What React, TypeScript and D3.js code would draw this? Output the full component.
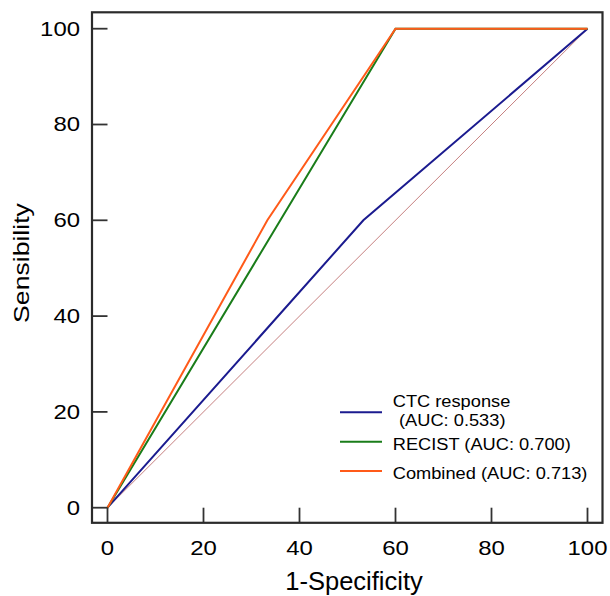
import React from "react";
import * as d3 from "d3";

const xTicks = [0, 20, 40, 60, 80, 100];
const yTicks = [0, 20, 40, 60, 80, 100];

const ctcX = [0, 53.3, 100];
const ctcY = [0, 60, 100];
const recistX = [0, 60, 100];
const recistY = [0, 100, 100];
const combinedX = [0, 33.3, 60, 100];
const combinedY = [0, 60, 100, 100];
const diagX = [0, 100];
const diagY = [0, 100];

const seriesNames = ["CTC response", "RECIST (AUC: 0.700)", "Combined (AUC: 0.713)"];
const ctcSub = "(AUC: 0.533)";
const colors = ["#1b1b8f", "#1a7d1a", "#ff5a19"];

const W = 610;
const H = 596;

function T({ x, y, sx = 1, size, anchor = "start", children, rotate = 0 }: any) {
  return (
    <g transform={`translate(${x},${y}) rotate(${rotate}) scale(${sx},1)`}>
      <text
        x={0}
        y={0}
        fontSize={size}
        textAnchor={anchor}
        fontFamily="Arial, 'Liberation Sans', Helvetica, sans-serif"
        fill="#000"
      >
        {children}
      </text>
    </g>
  );
}

export default function App() {
  const x = d3.scaleLinear().domain([0, 100]).range([107.5, 587.5]);
  const y = d3.scaleLinear().domain([0, 100]).range([507.7, 28.7]);
  const line = d3
    .line<[number, number]>()
    .x((d) => x(d[0]))
    .y((d) => y(d[1]));
  const pts = (xs: number[], ys: number[]) => xs.map((v, i) => [v, ys[i]] as [number, number]);

  const left = 92;
  const top = 12.3;
  const right = 602.5;
  const bottom = 522.8;

  const legend = [
    { yLine: 412.3, color: colors[0] },
    { yLine: 441.7, color: colors[1] },
    { yLine: 471, color: colors[2] },
  ];

  return (
    <svg
      width={W}
      height={H}
      style={{ position: "absolute", left: 0, top: 0, background: "#fff" }}
    >
      <rect x={0} y={0} width={W} height={H} fill="#fff" />
      {/* diagonal */}
      <path d={line(pts(diagX, diagY)) || ""} fill="none" stroke="#c07272" strokeWidth={0.9} />
      <path d={line(pts(ctcX, ctcY)) || ""} fill="none" stroke={colors[0]} strokeWidth={2} />
      <path d={line(pts(recistX, recistY)) || ""} fill="none" stroke={colors[1]} strokeWidth={2} />
      <path d={line(pts(combinedX, combinedY)) || ""} fill="none" stroke={colors[2]} strokeWidth={2} />

      {/* ticks */}
      {yTicks.map((t) => (
        <line key={"yt" + t} x1={left} x2={x(0)} y1={y(t)} y2={y(t)} stroke="#333" strokeWidth={1.8} />
      ))}
      {xTicks.map((t) => (
        <line key={"xt" + t} x1={x(t)} x2={x(t)} y1={bottom} y2={y(0)} stroke="#333" strokeWidth={1.8} />
      ))}
      {/* frame */}
      <rect x={left} y={top} width={right - left} height={bottom - top} fill="none" stroke="#2b2b2b" strokeWidth={2.2} />

      {yTicks.map((t) => (
        <T key={"yl" + t} x={80} y={y(t) + 6.8} sx={1.14} size={21} anchor="end">
          {String(t)}
        </T>
      ))}
      {xTicks.map((t) => (
        <T key={"xl" + t} x={x(t)} y={555} sx={1.14} size={21} anchor="middle">
          {String(t)}
        </T>
      ))}

      <T x={354} y={590} sx={1.02} size={25} anchor="middle">
        1-Specificity
      </T>
      <T x={28.5} y={263} sx={1.21} size={22} anchor="middle" rotate={-90}>
        Sensibility
      </T>

      {legend.map((l, i) => (
        <line key={"ll" + i} x1={340} x2={382} y1={l.yLine} y2={l.yLine} stroke={l.color} strokeWidth={2} />
      ))}
      <T x={392.7} y={406.7} sx={1.12} size={16.3}>
        {seriesNames[0]}
      </T>
      <T x={399} y={426} sx={1.12} size={16.3}>
        {ctcSub}
      </T>
      <T x={392.7} y={450} sx={1.12} size={16.3}>
        {seriesNames[1]}
      </T>
      <T x={392.7} y={479.3} sx={1.12} size={16.3}>
        {seriesNames[2]}
      </T>
    </svg>
  );
}
